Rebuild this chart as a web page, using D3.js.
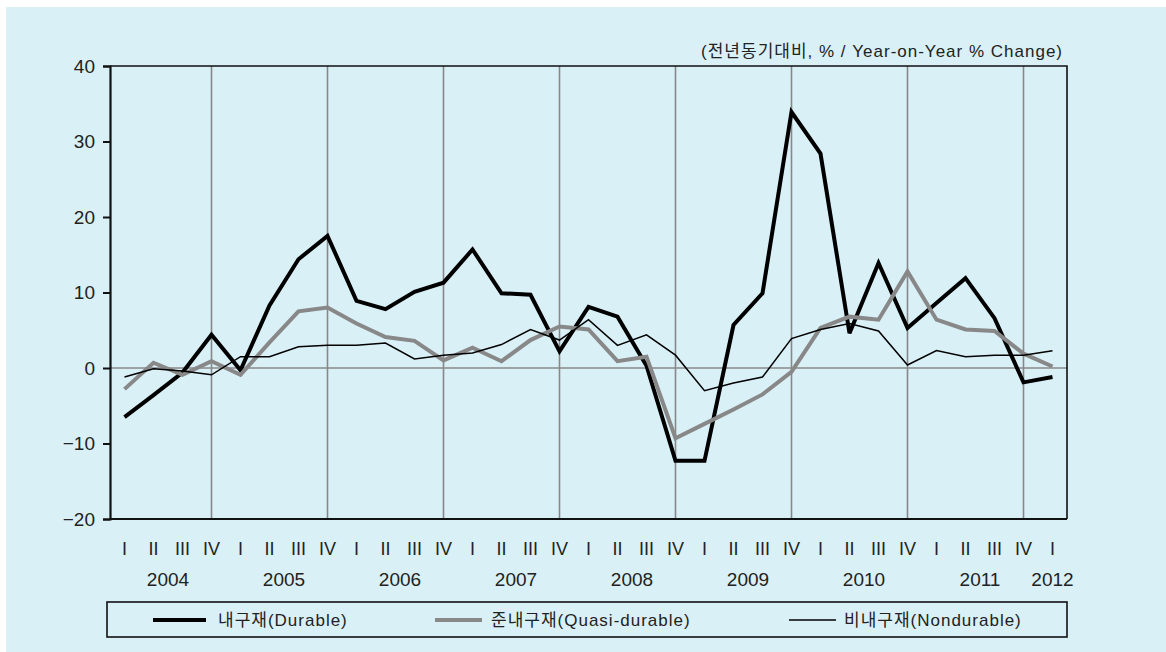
<!DOCTYPE html>
<html>
<head>
<meta charset="utf-8">
<script src="https://cdn.jsdelivr.net/npm/d3@7/dist/d3.min.js"></script>
<style>
  html, body { margin: 0; padding: 0; background: #ffffff; }
  svg { display: block; }
  text { font-family: "Liberation Sans", "Noto Sans CJK KR", sans-serif; fill: #222; }
</style>
</head>
<body>
<svg id="chart" width="1166" height="652"></svg>
<script>
// Quarterly consumption growth by goods type, 2004 Q1 – 2012 Q1
const years = [2004, 2005, 2006, 2007, 2008, 2009, 2010, 2011, 2012];
const quarterNames = ["I", "II", "III", "IV"];
const quarters = [
  "2004 I","2004 II","2004 III","2004 IV",
  "2005 I","2005 II","2005 III","2005 IV",
  "2006 I","2006 II","2006 III","2006 IV",
  "2007 I","2007 II","2007 III","2007 IV",
  "2008 I","2008 II","2008 III","2008 IV",
  "2009 I","2009 II","2009 III","2009 IV",
  "2010 I","2010 II","2010 III","2010 IV",
  "2011 I","2011 II","2011 III","2011 IV",
  "2012 I"
];

// Year-on-year % change
const durable = [
  -6.5, -3.6, -0.6, 4.4,
  -0.3, 8.3, 14.4, 17.5,
  8.9, 7.8, 10.1, 11.3,
  15.7, 9.9, 9.7, 2.2,
  8.1, 6.8, 0.3, -12.3,
  -12.3, 5.7, 9.9, 33.9,
  28.4, 4.6, 13.9, 5.3,
  8.6, 11.9, 6.6, -1.9,
  -1.2
];
const quasiDurable = [
  -2.8, 0.7, -0.9, 0.9,
  -0.9, 3.4, 7.5, 8.0,
  5.9, 4.1, 3.6, 1.0,
  2.7, 0.9, 3.7, 5.5,
  5.1, 0.9, 1.5, -9.3,
  -7.4, -5.5, -3.5, -0.5,
  5.3, 6.8, 6.4, 12.8,
  6.4, 5.1, 4.9, 1.9,
  0.2
];
const nondurable = [
  -1.2, -0.1, -0.4, -0.9,
  1.5, 1.5, 2.8, 3.0,
  3.0, 3.3, 1.2, 1.7,
  2.0, 3.1, 5.1, 3.7,
  6.4, 3.0, 4.4, 1.7,
  -3.0, -2.0, -1.2, 3.9,
  5.1, 5.9, 4.9, 0.4,
  2.3, 1.5, 1.7, 1.7,
  2.3
];
const yTicks = [-20, -10, 0, 10, 20, 30, 40];

const seriesNames = ["내구재(Durable)", "준내구재(Quasi-durable)", "비내구재(Nondurable)"];
const unitLabel = "(전년동기대비, % / Year-on-Year % Change)";

const series = [
  { name: seriesNames[0], values: durable,      color: "#000000", width: 4 },
  { name: seriesNames[1], values: quasiDurable, color: "#888888", width: 4 },
  { name: seriesNames[2], values: nondurable,   color: "#000000", width: 1.5 }
];

const W = 1166, H = 652;
const plot = { left: 110, right: 1067, top: 66, bottom: 519 };

const svg = d3.select("#chart");

// panel background
svg.append("rect")
  .attr("x", 6).attr("y", 7)
  .attr("width", W - 6).attr("height", H - 7)
  .attr("fill", "#d9f0f7");

const x = d3.scaleBand()
  .domain(d3.range(quarters.length))
  .range([plot.left, plot.right])
  .padding(0);
const cx = i => x(i) + x.bandwidth() / 2;

const y = d3.scaleLinear()
  .domain([-20, 40])
  .range([plot.bottom, plot.top]);

// vertical separators at each Q4
const q4 = d3.range(quarters.length).filter(i => i % 4 === 3);
svg.append("g")
  .selectAll("line")
  .data(q4)
  .join("line")
  .attr("x1", d => cx(d)).attr("x2", d => cx(d))
  .attr("y1", plot.top).attr("y2", plot.bottom)
  .attr("stroke", "#888888")
  .attr("stroke-width", 1.6);

// zero line
svg.append("line")
  .attr("x1", plot.left).attr("x2", plot.right)
  .attr("y1", y(0)).attr("y2", y(0))
  .attr("stroke", "#888888")
  .attr("stroke-width", 1.6);

// frame: top and right
svg.append("path")
  .attr("d", `M${plot.left},${plot.top}H${plot.right}V${plot.bottom}`)
  .attr("fill", "none")
  .attr("stroke", "#111")
  .attr("stroke-width", 1.6);

// bottom line
svg.append("line")
  .attr("x1", plot.left).attr("x2", plot.right)
  .attr("y1", plot.bottom).attr("y2", plot.bottom)
  .attr("stroke", "#111")
  .attr("stroke-width", 2);

// y axis
const yAxis = svg.append("g")
  .attr("transform", `translate(${plot.left},0)`)
  .call(d3.axisLeft(y).tickValues(yTicks).tickSize(7).tickPadding(8));
yAxis.select(".domain").attr("stroke", "#111").attr("stroke-width", 2.2);
yAxis.selectAll(".tick line").attr("stroke", "#111").attr("stroke-width", 2);
yAxis.selectAll(".tick text")
  .attr("font-size", 19)
  .attr("font-family", "'Liberation Sans', sans-serif")
  .attr("fill", "#222");

// series lines
const line = d3.line()
  .x((d, i) => cx(i))
  .y(d => y(d));

svg.append("g")
  .selectAll("path")
  .data(series)
  .join("path")
  .attr("d", d => line(d.values))
  .attr("fill", "none")
  .attr("stroke", d => d.color)
  .attr("stroke-width", d => d.width)
  .attr("stroke-linejoin", "miter")
  .attr("stroke-miterlimit", 3);

// quarter labels
svg.append("g")
  .selectAll("text")
  .data(quarters)
  .join("text")
  .attr("x", (d, i) => cx(i))
  .attr("y", 555)
  .attr("text-anchor", "middle")
  .attr("font-size", 18)
  .text((d, i) => quarterNames[i % 4]);

// year labels
svg.append("g")
  .selectAll("text")
  .data(years)
  .join("text")
  .attr("x", d => {
    const idx = d3.range(quarters.length).filter(i => quarters[i].startsWith(String(d)));
    return (cx(idx[0]) + cx(idx[idx.length - 1])) / 2;
  })
  .attr("y", 586)
  .attr("text-anchor", "middle")
  .attr("font-size", 19)
  .text(d => d);

// unit label
svg.append("text")
  .attr("x", plot.right - 4)
  .attr("y", 57)
  .attr("text-anchor", "end")
  .attr("font-size", 17)
  .attr("letter-spacing", 1)
  .text(unitLabel);

// legend
const legend = svg.append("g");
legend.append("rect")
  .attr("x", 107).attr("y", 602)
  .attr("width", plot.right - 107).attr("height", 35)
  .attr("fill", "none")
  .attr("stroke", "#111")
  .attr("stroke-width", 1.6);

const legendItems = [
  { s: series[0], x0: 153, x1: 206, tx: 218 },
  { s: series[1], x0: 435, x1: 482, tx: 491 },
  { s: series[2], x0: 789, x1: 836, tx: 844 }
];
const li = legend.selectAll("g.item")
  .data(legendItems)
  .join("g")
  .attr("class", "item");
li.append("line")
  .attr("x1", d => d.x0).attr("x2", d => d.x1)
  .attr("y1", 620).attr("y2", 620)
  .attr("stroke", d => d.s.color)
  .attr("stroke-width", d => d.s.width);
li.append("text")
  .attr("x", d => d.tx)
  .attr("y", 626)
  .attr("font-size", 17)
  .attr("letter-spacing", 1)
  .text(d => d.s.name);
</script>
</body>
</html>
